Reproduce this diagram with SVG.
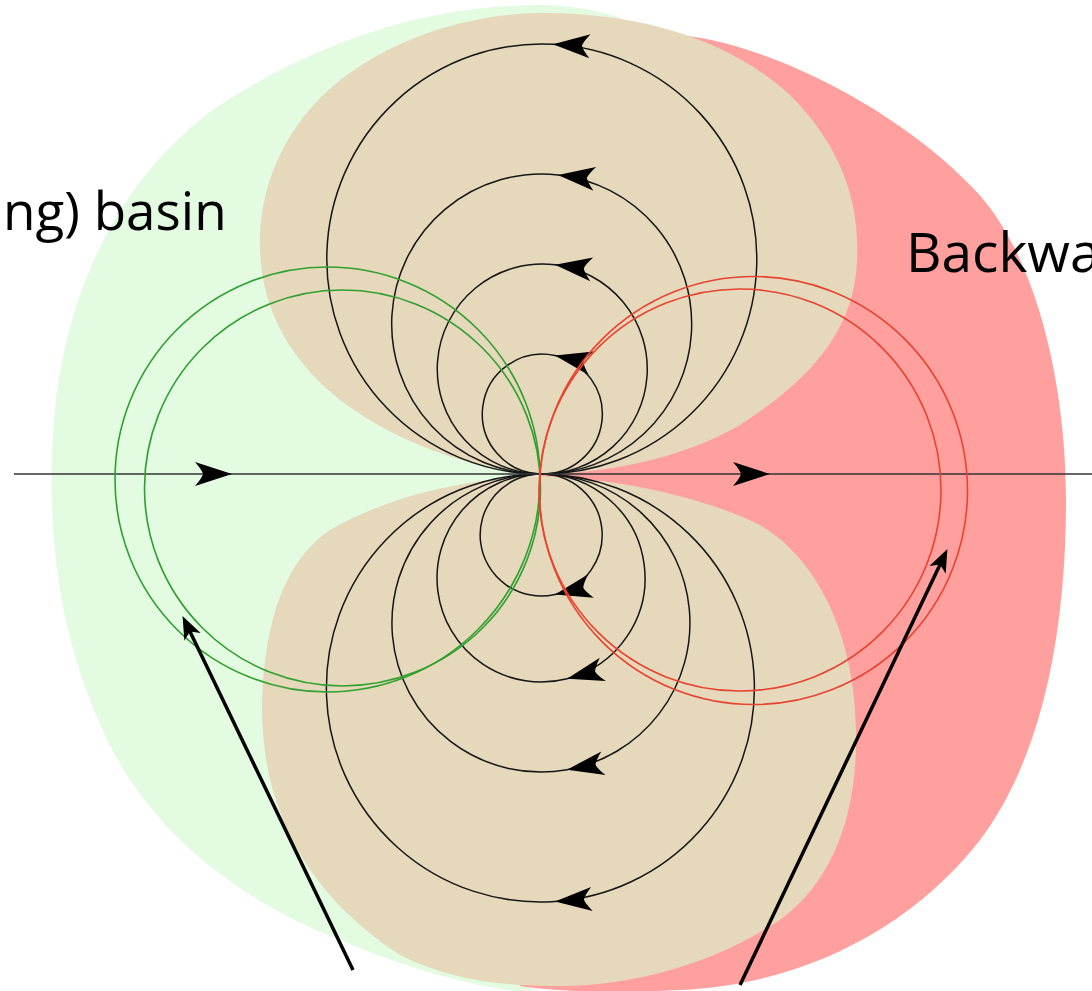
<svg xmlns="http://www.w3.org/2000/svg" width="1092" height="991" viewBox="0 0 1092 991">
<style>
.flow{fill:none;stroke:#151515;stroke-width:1.5;marker-mid:url(#fa)}
.gc{fill:none;stroke:#2f9f2f;stroke-width:1.6}
.rc{fill:none;stroke:#e8432f;stroke-width:1.6}
.ann{fill:none;stroke:#000;stroke-width:3.5;marker-end:url(#ah)}
.lbl{font-family:"Open Sans","Liberation Sans",sans-serif;fill:#000}
</style>
<defs>
<marker id="fa" markerUnits="userSpaceOnUse" orient="auto" refX="0" refY="0" markerWidth="80" markerHeight="40" viewBox="-40 -20 80 40" overflow="visible">
<path d="M0,0 L-37,-12 Q-30,-4 -29,0 Q-30,4 -37,12 Z" fill="#000"/>
</marker>
<marker id="ah" markerUnits="userSpaceOnUse" orient="auto" refX="0" refY="0" markerWidth="60" markerHeight="40" viewBox="-30 -20 60 40" overflow="visible">
<path d="M11,0 L-12,-9 L-6,0 L-12,9 Z" fill="#000"/>
</marker>
</defs>
<g id="backgrounds">
<path id="green-basin" fill="#e3fbe1" d="M540,474 L645,32 C625,16 590,6 540,5 C430,5 320,40 220,105 C120,175 65,290 54,420 C44,550 65,660 115,755 C165,845 250,905 340,940 C400,965 460,985 530,993 Z"/>
<path id="red-basin" fill="#ff9f9e" d="M540,474 L650,36 C720,25 880,90 975,190 C1035,253 1066,380 1066,500 C1066,640 1040,760 980,840 C910,930 800,985 680,990 C620,993 560,992 520,986 Z"/>
<path id="tan-upper" fill="#e6d8bb" d="M540,474 C470,468 400,445 340,400 C290,360 262,310 260,250 C258,170 300,100 370,60 C420,30 480,14 540,13 C640,12 730,40 790,95 C840,145 860,200 857,260 C855,330 810,380 740,425 C680,460 600,474 540,474 Z"/>
<path id="tan-lower" fill="#e6d8bb" d="M540,476 C470,478 390,495 330,530 C285,560 265,620 262,700 C260,800 300,890 400,955 C450,980 500,986 560,986 C640,986 720,960 780,920 C835,880 858,810 856,730 C855,640 820,560 760,525 C700,495 610,478 540,476 Z"/>
</g>
<g id="connectors">
<path class="flow" d="M540,474 A60,60 0 0 0 555,355.4 A60,60 0 1 0 540,474"/>
<path class="flow" d="M540,474 A105,105 0 0 0 555,264.8 A105,105 0 1 0 540,474"/>
<path class="flow" d="M540,474 A150,150 0 0 0 558,174.9 A150,150 0 1 0 540,474"/>
<path class="flow" d="M540,474 A215,215 0 0 0 553,44.3 A215,215 0 1 0 540,474"/>
<path class="flow" d="M540,474 A61,61 0 0 1 555,594.4 A61,61 0 1 1 540,474"/>
<path class="flow" d="M540,474 A104,104 0 0 1 567,678.7 A104,104 0 1 1 540,474"/>
<path class="flow" d="M540,474 A149,149 0 0 1 567,769.7 A149,149 0 1 1 540,474"/>
<path class="flow" d="M540,474 A214,214 0 0 1 555,901.5 A214,214 0 1 1 540,474"/>
<path id="axis" fill="none" stroke="#333" stroke-width="1.6" marker-mid="url(#fa)" d="M14,474 L232,474 L770,474 L1092,474"/>
</g>
<g id="green-cycle">
<circle class="gc" cx="327.5" cy="479.5" r="212.5"/>
<circle class="gc" cx="342.5" cy="488" r="198"/>
</g>
<g id="red-cycle">
<circle class="rc" cx="753.5" cy="490.5" r="214"/>
<circle class="rc" cx="740" cy="490" r="201"/>
</g>
<g id="annotations">
<line class="ann" x1="353" y1="970" x2="187.3" y2="626"/>
<line class="ann" x1="740" y1="985" x2="942.7" y2="559"/>
</g>
<g id="labels">
<text class="lbl" x="3" y="230" font-size="53">ng) basin</text>
<text class="lbl" x="906" y="272" font-size="55">Backwa</text>
</g>
</svg>
